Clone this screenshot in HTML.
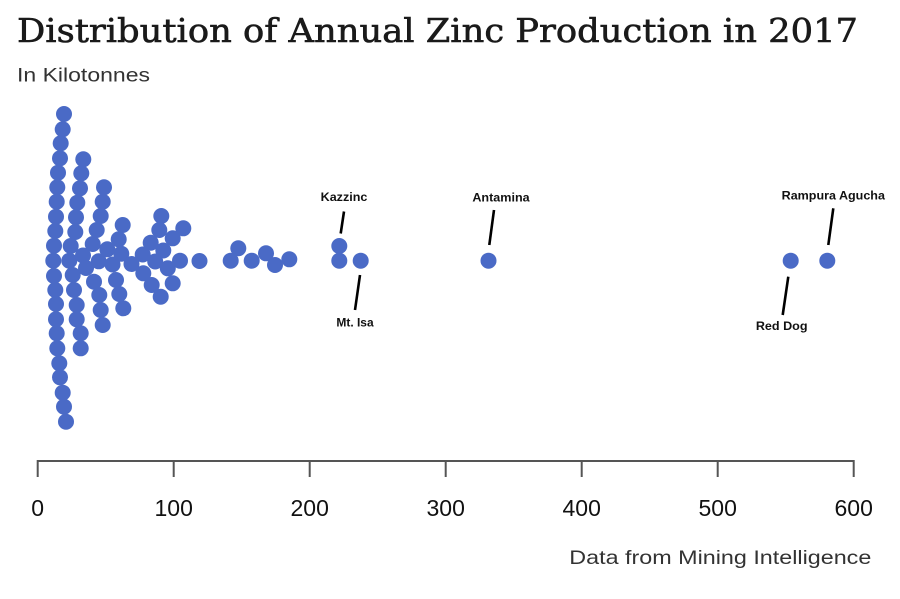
<!DOCTYPE html>
<html>
<head>
<meta charset="utf-8">
<style>
html,body{margin:0;padding:0;background:#fff;}
svg{display:block;}
</style>
</head>
<body>
<svg width="900" height="599" viewBox="0 0 900 599" xmlns="http://www.w3.org/2000/svg">
<rect width="900" height="599" fill="#fff"/>
<text x="17" y="42" font-family="DejaVu Serif, Liberation Serif, serif" font-size="33" fill="#1a1a1a" stroke="#1a1a1a" stroke-width="0.6" textLength="841" lengthAdjust="spacingAndGlyphs">Distribution of Annual Zinc Production in 2017</text>
<text x="17" y="81.5" font-family="Liberation Sans, DejaVu Sans, sans-serif" font-size="19" fill="#333" textLength="133" lengthAdjust="spacingAndGlyphs">In Kilotonnes</text>
<g fill="#4a6ac6">
<circle cx="64" cy="114" r="8"/>
<circle cx="62.7" cy="129.3" r="8"/>
<circle cx="60.7" cy="143.3" r="8"/>
<circle cx="60" cy="158.3" r="8"/>
<circle cx="58" cy="172.7" r="8"/>
<circle cx="57.3" cy="187.3" r="8"/>
<circle cx="56.7" cy="201.7" r="8"/>
<circle cx="56" cy="216.7" r="8"/>
<circle cx="55.3" cy="231" r="8"/>
<circle cx="54" cy="245.7" r="8"/>
<circle cx="53.3" cy="260.7" r="8"/>
<circle cx="54" cy="276" r="8"/>
<circle cx="55.3" cy="290" r="8"/>
<circle cx="56" cy="304" r="8"/>
<circle cx="56" cy="319.3" r="8"/>
<circle cx="56.7" cy="333.3" r="8"/>
<circle cx="57.3" cy="348.3" r="8"/>
<circle cx="59.3" cy="363.3" r="8"/>
<circle cx="60" cy="377.3" r="8"/>
<circle cx="62.7" cy="392.7" r="8"/>
<circle cx="64" cy="406.7" r="8"/>
<circle cx="66" cy="421.7" r="8"/>
<circle cx="83.3" cy="159.3" r="8"/>
<circle cx="81.3" cy="173.3" r="8"/>
<circle cx="80" cy="188.3" r="8"/>
<circle cx="77.3" cy="202.7" r="8"/>
<circle cx="76" cy="217.3" r="8"/>
<circle cx="75.3" cy="232" r="8"/>
<circle cx="70.7" cy="246" r="8"/>
<circle cx="69.3" cy="260.7" r="8"/>
<circle cx="72.7" cy="275" r="8"/>
<circle cx="74" cy="290" r="8"/>
<circle cx="76.7" cy="305" r="8"/>
<circle cx="76.7" cy="319.3" r="8"/>
<circle cx="80.7" cy="333.3" r="8"/>
<circle cx="80.7" cy="348.3" r="8"/>
<circle cx="104" cy="187.3" r="8"/>
<circle cx="102.7" cy="201.7" r="8"/>
<circle cx="100.7" cy="216" r="8"/>
<circle cx="96.7" cy="230" r="8"/>
<circle cx="92.7" cy="244" r="8"/>
<circle cx="83" cy="255.5" r="8"/>
<circle cx="86" cy="268" r="8"/>
<circle cx="98.7" cy="261.3" r="8"/>
<circle cx="107.3" cy="249.3" r="8"/>
<circle cx="112.5" cy="264.5" r="8"/>
<circle cx="94" cy="281.7" r="8"/>
<circle cx="99.3" cy="295" r="8"/>
<circle cx="100.7" cy="310" r="8"/>
<circle cx="102.7" cy="325" r="8"/>
<circle cx="122.7" cy="225" r="8"/>
<circle cx="118.7" cy="239.3" r="8"/>
<circle cx="121.3" cy="253.7" r="8"/>
<circle cx="131.5" cy="264" r="8"/>
<circle cx="116" cy="280" r="8"/>
<circle cx="119.3" cy="294" r="8"/>
<circle cx="123.3" cy="308.3" r="8"/>
<circle cx="161.3" cy="216" r="8"/>
<circle cx="159.3" cy="230" r="8"/>
<circle cx="150.7" cy="242.7" r="8"/>
<circle cx="163.3" cy="250.5" r="8"/>
<circle cx="183.3" cy="228.3" r="8"/>
<circle cx="172.7" cy="238.3" r="8"/>
<circle cx="142.7" cy="254.5" r="8"/>
<circle cx="155.2" cy="261.5" r="8"/>
<circle cx="180" cy="260.7" r="8"/>
<circle cx="199.5" cy="261" r="8"/>
<circle cx="143.3" cy="273.3" r="8"/>
<circle cx="167.8" cy="268.3" r="8"/>
<circle cx="151.7" cy="285" r="8"/>
<circle cx="172.7" cy="283.3" r="8"/>
<circle cx="160.7" cy="296.7" r="8"/>
<circle cx="230.7" cy="260.7" r="8"/>
<circle cx="238.3" cy="248.3" r="8"/>
<circle cx="251.7" cy="260.7" r="8"/>
<circle cx="266" cy="253.3" r="8"/>
<circle cx="275" cy="265" r="8"/>
<circle cx="289.3" cy="259.3" r="8"/>
<circle cx="339.3" cy="246" r="8"/>
<circle cx="339.3" cy="260.7" r="8"/>
<circle cx="360.7" cy="260.7" r="8"/>
<circle cx="488.5" cy="260.7" r="8"/>
<circle cx="790.7" cy="260.7" r="8"/>
<circle cx="827.3" cy="260.7" r="8"/>
</g>
<g stroke="#000" stroke-width="2.6">
<line x1="344" y1="211.5" x2="340.7" y2="233.5"/>
<line x1="360" y1="275" x2="355" y2="310"/>
<line x1="494" y1="210" x2="489.3" y2="245"/>
<line x1="833.3" y1="208.3" x2="828.3" y2="245"/>
<line x1="788.3" y1="276.7" x2="782.7" y2="315"/>
</g>
<g font-family="Liberation Sans, Arial, sans-serif" font-weight="bold" font-size="11.5" fill="#111" text-anchor="middle">
<text x="344" y="201" textLength="46.7" lengthAdjust="spacingAndGlyphs">Kazzinc</text>
<text x="355" y="326.7" textLength="37.3" lengthAdjust="spacingAndGlyphs">Mt. Isa</text>
<text x="501" y="201.5" textLength="57.3" lengthAdjust="spacingAndGlyphs">Antamina</text>
<text x="833.3" y="199.3" textLength="103.3" lengthAdjust="spacingAndGlyphs">Rampura Agucha</text>
<text x="781.7" y="330" textLength="51.7" lengthAdjust="spacingAndGlyphs">Red Dog</text>
</g>
<g stroke="#555" stroke-width="2" fill="none">
<line x1="37.7" y1="461" x2="853.7" y2="461"/>
<line x1="37.7" y1="460" x2="37.7" y2="477"/>
<line x1="173.7" y1="460" x2="173.7" y2="477"/>
<line x1="309.7" y1="460" x2="309.7" y2="477"/>
<line x1="445.7" y1="460" x2="445.7" y2="477"/>
<line x1="581.7" y1="460" x2="581.7" y2="477"/>
<line x1="717.7" y1="460" x2="717.7" y2="477"/>
<line x1="853.7" y1="460" x2="853.7" y2="477"/>
</g>
<g font-family="Liberation Sans, Arial, sans-serif" font-size="23" fill="#111" text-anchor="middle">
<text x="37.7" y="516">0</text>
<text x="173.7" y="516">100</text>
<text x="309.7" y="516">200</text>
<text x="445.7" y="516">300</text>
<text x="581.7" y="516">400</text>
<text x="717.7" y="516">500</text>
<text x="853.7" y="516">600</text>
</g>
<text x="569.3" y="564" font-family="Liberation Sans, DejaVu Sans, sans-serif" font-size="19.5" fill="#333" textLength="302" lengthAdjust="spacingAndGlyphs">Data from Mining Intelligence</text>
</svg>
</body>
</html>
